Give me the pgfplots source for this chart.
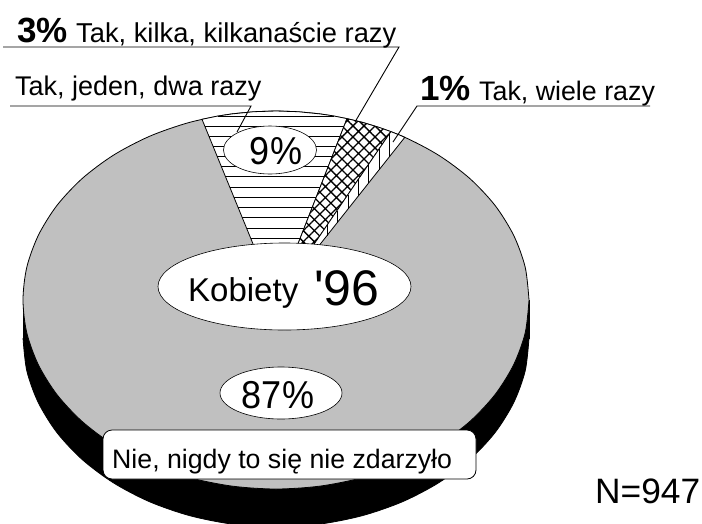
\documentclass[border=0pt]{standalone}
\usepackage{pgfplots}
\pgfplotsset{compat=1.18}
\usepackage{fontspec}
\setmainfont{Liberation Sans}
\newfontfamily\plainfont{Liberation Sans}
\usetikzlibrary{patterns.meta,shapes.geometric}
\definecolor{piegray}{HTML}{C0C0C0}
\newcommand{\fs}[1]{\fontsize{#1}{#1}\selectfont}
\newcommand{\tall}[1]{\scalebox{1}[1.08]{#1}}
\begin{document}
\begin{tikzpicture}
\useasboundingbox (0,0) rectangle (702pt,523pt);
\begin{axis}[
  at={(0,0)},anchor=south west,
  width=702pt,height=523pt,scale only axis,
  xmin=0,xmax=702,ymin=0,ymax=523,y dir=reverse,
  hide axis,clip=true,
  every axis plot/.append style={line width=0.8pt},
  ]
% side of the pie
\addplot[fill=black,draw=black,forget plot] coordinates {(23,300)(529,300)(529,338)(23,338)(23,300)};
\addplot[smooth,fill=black,draw=black,forget plot] coordinates {
(529,338)(525.2,370.8)(513.7,402.6)(495.1,432.5)(469.8,459.5)(438.6,482.8)(402.5,501.7)(362.5,515.6)(319.9,524.1)(276,527)
(232.1,524.1)(189.5,515.6)(149.5,501.7)(113.4,482.8)(82.2,459.5)(56.9,432.5)(38.3,402.6)(26.8,370.8)(23,338)};
% top of the pie
\addplot[smooth,fill=piegray,draw=black,forget plot] coordinates {
(529,300)(525.2,267.2)(513.7,235.4)(495.1,205.5)(469.8,178.5)(438.6,155.2)(402.5,136.3)(362.5,122.4)(319.9,113.9)(276,111)
(232.1,113.9)(189.5,122.4)(149.5,136.3)(113.4,155.2)(82.2,178.5)(56.9,205.5)(38.3,235.4)(26.8,267.2)(23,300)
(26.8,332.8)(38.3,364.6)(56.9,394.5)(82.2,421.5)(113.4,444.8)(149.5,463.7)(189.5,477.6)(232.1,486.1)(276,489)
(319.9,486.1)(362.5,477.6)(402.5,463.7)(438.6,444.8)(469.8,421.5)(495.1,394.5)(513.7,364.6)(525.2,332.8)(529,300)};
% 9% wedge
\addplot[fill=white,draw=black,forget plot] coordinates {(276,300)(347,118.6)(332.9,115.8)(319.9,113.9)(298.1,111.7)(276,111)(253.9,111.7)(232.1,113.9)(216.9,116.2)(202,119.3)(276,300)};
\addplot[black,line width=0.9pt,forget plot,unbounded coords=jump] coordinates {
(218,116)(334,116)(nan,nan)
(204.7,126)(344.1,126)(nan,nan)
(208.8,136)(340.2,136)(nan,nan)
(212.9,146)(336.3,146)(nan,nan)
(217,156)(332.4,156)(nan,nan)
(221.1,166)(328.4,166)(nan,nan)
(225.2,176)(324.5,176)(nan,nan)
(229.7,187)(320.2,187)(nan,nan)
(233.8,197)(316.3,197)(nan,nan)
(237.9,207)(312.4,207)(nan,nan)
(242,217)(308.5,217)(nan,nan)
(246.5,228)(304.2,228)(nan,nan)
(250.6,238)(300.3,238)};
% 3% wedge
\addplot[fill=white,draw=none,forget plot] coordinates {(276,300)(390.9,131.6)(378.9,127.3)(362.5,122.4)(347,118.6)(276,300)};
\addplot[draw=black,pattern={Hatch[angle=45,distance=7.8pt,line width=1.3pt]},pattern color=black,forget plot] coordinates {(276,300)(390.9,131.6)(378.9,127.3)(362.5,122.4)(347,118.6)(276,300)};
% 1% wedge
\addplot[fill=white,draw=black,forget plot] coordinates {(276,300)(404.8,137.3)(398.7,134.7)(390.9,131.6)(276,300)};
\addplot[black,line width=0.9pt,forget plot,unbounded coords=jump] coordinates {
(389.3,134)(389.3,156.9)(nan,nan)
(379,149)(379,170)(nan,nan)
(368.5,164.4)(368.5,183.2)(nan,nan)
(358.3,179.4)(358.3,196)(nan,nan)
(348,194.5)(348,209)(nan,nan)
(337,210.6)(337,223)(nan,nan)
(327,225.3)(327,235.6)};
% leaders
\addplot[black,line width=0.9pt,forget plot] coordinates {(3,47)(399,47)(355,122)};
\addplot[black,line width=0.9pt,forget plot] coordinates {(10,106)(251,106)(237,132)};
\addplot[black,line width=0.9pt,forget plot] coordinates {(650,106)(417,106)(393,142)};
% labels
\node[ellipse,draw=black,fill=white,line width=0.6pt,minimum width=93pt,minimum height=48pt,inner sep=0pt] at (axis cs:270,150) {};
\node[inner sep=0pt] at (axis cs:276,151) {\fs{36}\tall{9\%}};
\node[ellipse,draw=black,fill=white,line width=0.6pt,minimum width=253pt,minimum height=87pt,inner sep=0pt] at (axis cs:284.5,286.5) {};
\node[anchor=base west,inner sep=0pt] at (axis cs:188,301) {\fs{33}Kobiety};
\node[anchor=base west,inner sep=0pt] at (axis cs:314,305) {\fs{50}\plainfont'96};
\node[ellipse,draw=black,fill=white,line width=0.6pt,minimum width=122pt,minimum height=52pt,inner sep=0pt] at (axis cs:281,393) {};
\node[inner sep=0pt] at (axis cs:278,395) {\fs{36}\tall{87\%}};
\node[rectangle,rounded corners=9pt,draw=black,fill=white,line width=0.8pt,minimum width=373pt,minimum height=49pt,inner sep=0pt] at (axis cs:289.5,454.5) {};
\node[anchor=base west,inner sep=0pt] at (axis cs:112,468) {\fs{26.7}Nie, nigdy to się nie zdarzyło};
\node[anchor=base west,inner sep=0pt] at (axis cs:17,42) {\fs{35}\bfseries 3\%};
\node[anchor=base west,inner sep=0pt] at (axis cs:76,42) {\fs{27.3}Tak, kilka, kilkanaście razy};
\node[anchor=base west,inner sep=0pt] at (axis cs:15,95) {\fs{27}Tak, jeden, dwa razy};
\node[anchor=base west,inner sep=0pt] at (axis cs:420,100) {\fs{35}\bfseries 1\%};
\node[anchor=base west,inner sep=0pt] at (axis cs:479,100) {\fs{26.8}Tak, wiele razy};
\node[anchor=base west,inner sep=0pt] at (axis cs:595,503) {\fs{35.3}N=947};
\end{axis}
\end{tikzpicture}
\end{document}
